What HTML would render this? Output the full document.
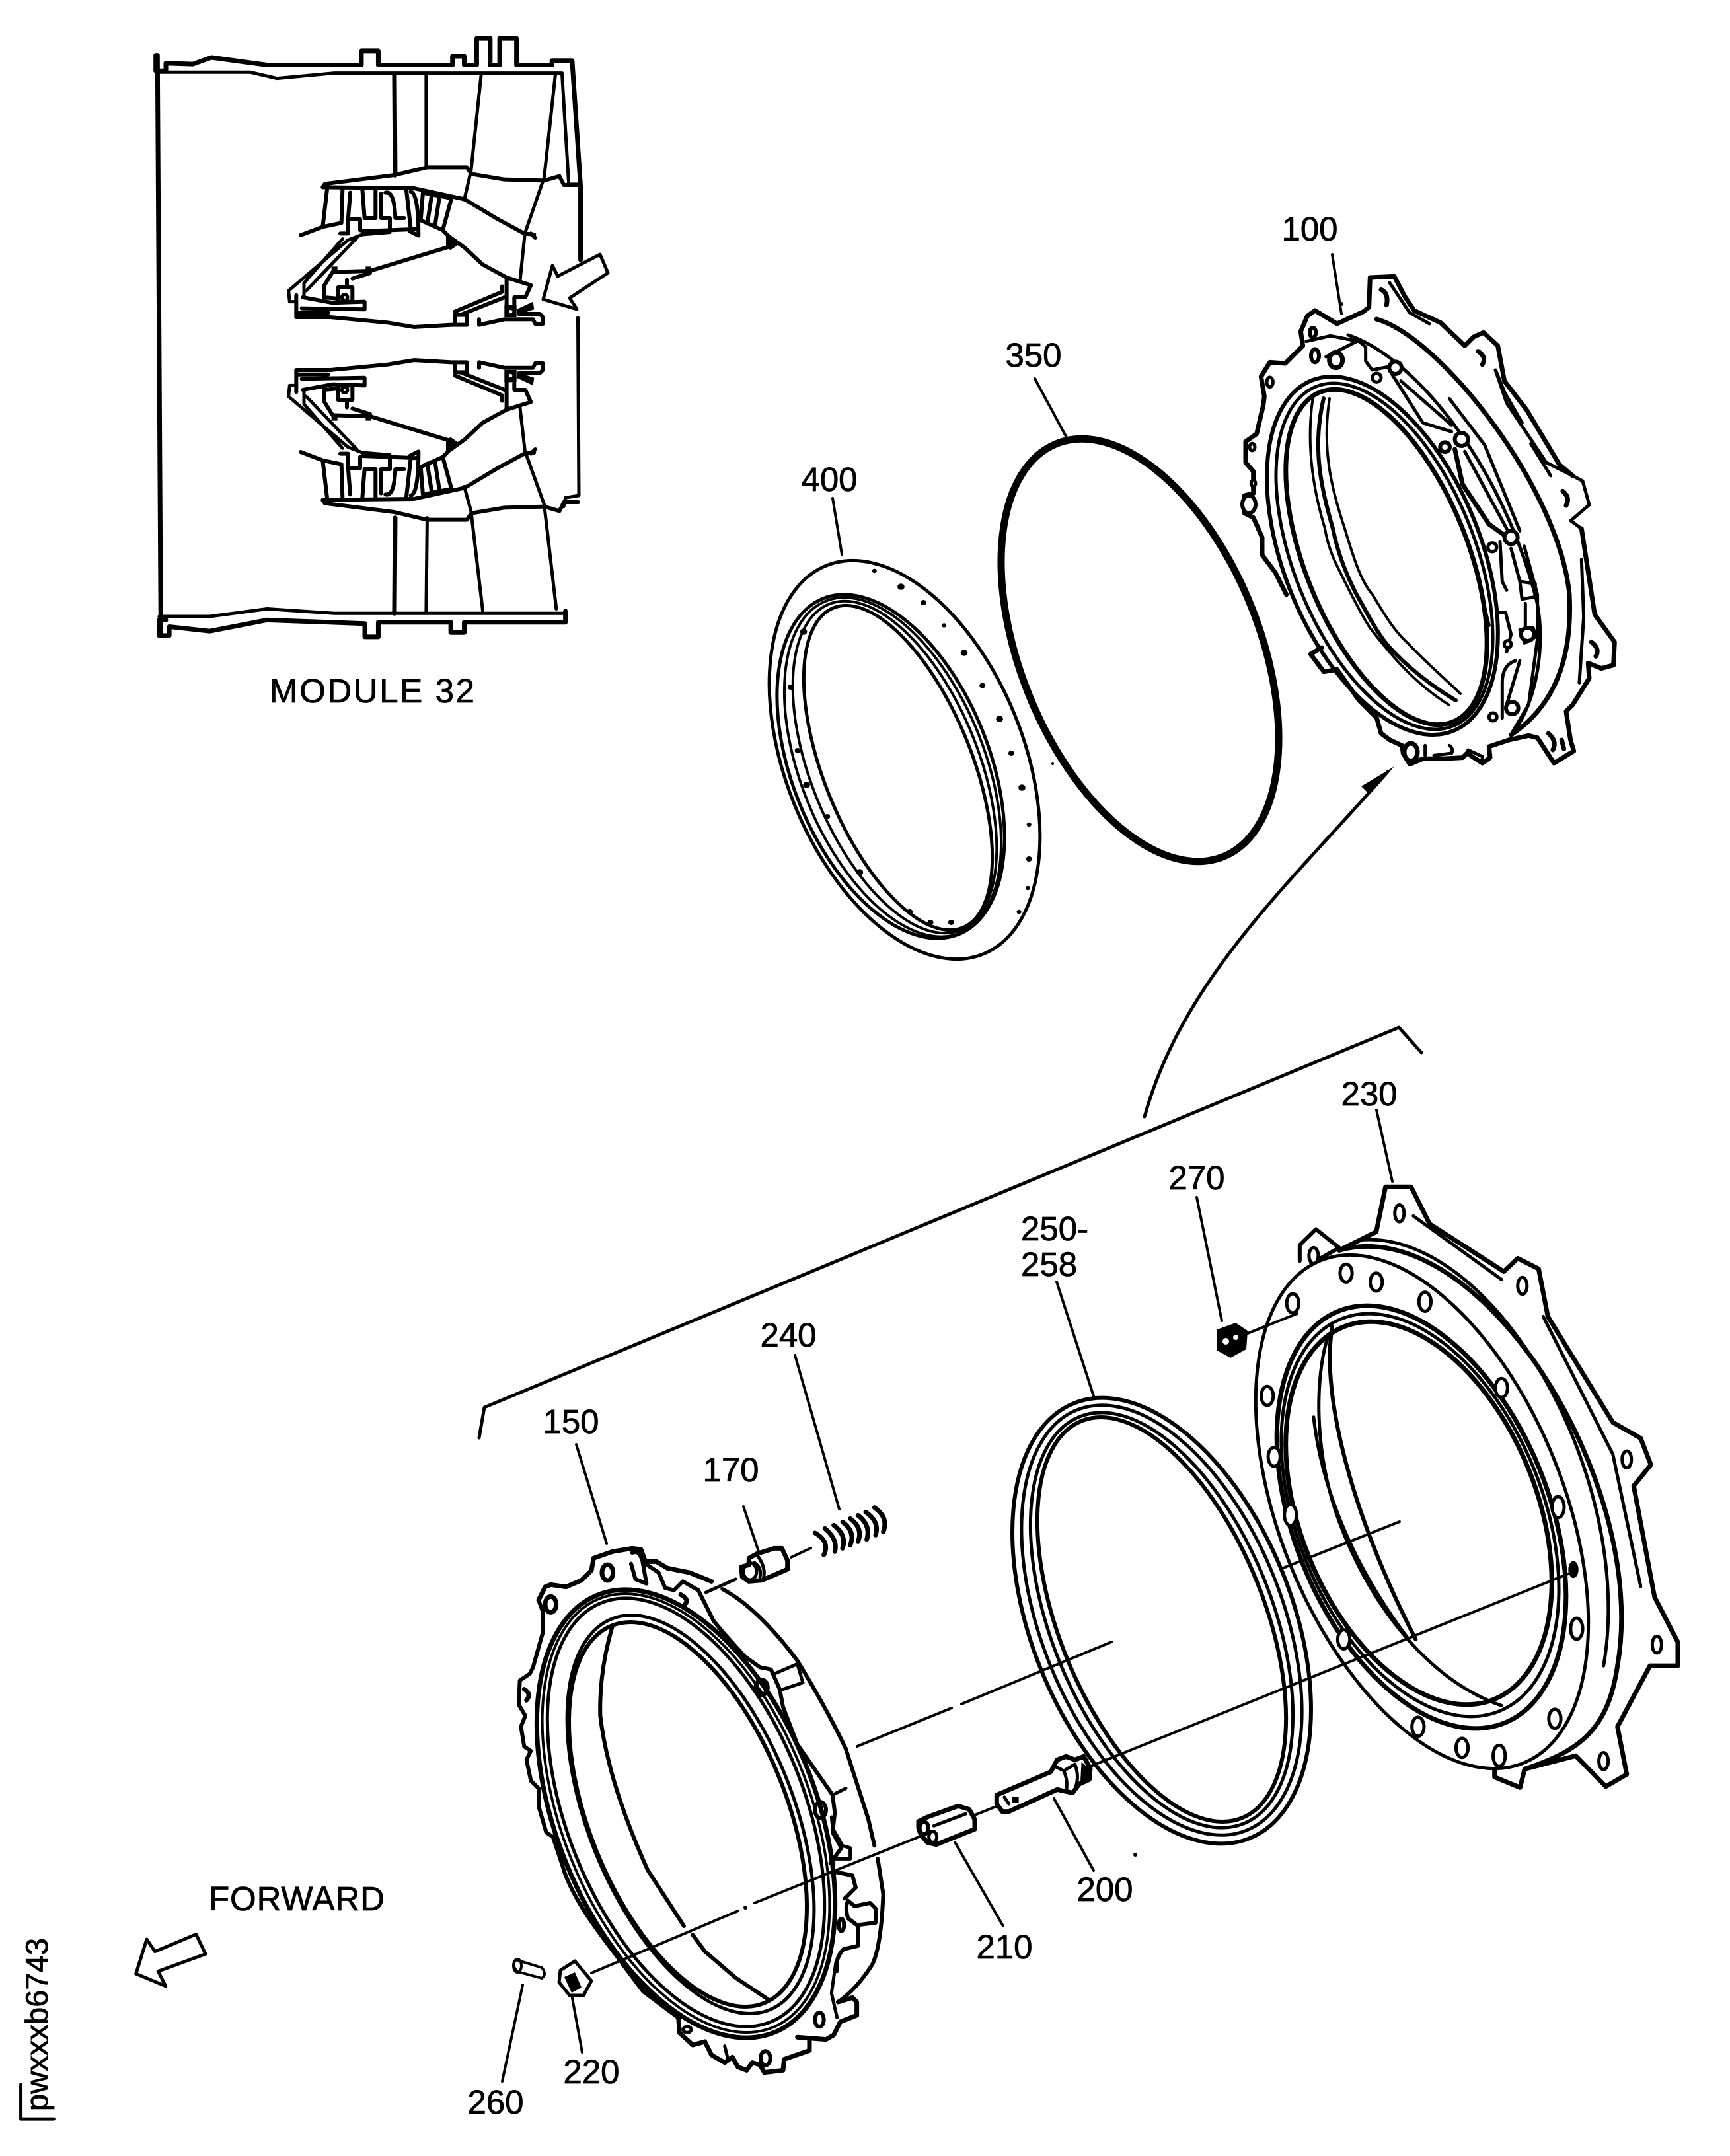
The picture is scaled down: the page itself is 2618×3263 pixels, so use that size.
<!DOCTYPE html>
<html><head><meta charset="utf-8"><style>
html,body{margin:0;padding:0;background:#fff}
svg{display:block}
svg *{vector-effect:non-scaling-stroke}
.s{fill:none;stroke:#000;stroke-width:5;stroke-linejoin:round;stroke-linecap:round}
.t{stroke-width:4}.h{stroke-width:7}.v{stroke-width:6}
.k{fill:#000;stroke:none}
.f{fill:#fff}
text{font-family:"Liberation Sans",sans-serif;font-size:51px;fill:#000;stroke:#000;stroke-width:.8}
</style></head><body>
<svg xmlns="http://www.w3.org/2000/svg" width="2618" height="3263" viewBox="0 0 2618 3263">
<rect width="2618" height="3263" fill="#fff"/>

<!-- MODULE INSET casing -->
<g class="s" transform="translate(200 50) scale(.5102 .673)">
<path class="h" d="M70,50V85H100V68L180,70L235,55L400,72L680,72V40H730V72H950V52H985V72H1022V12H1062V72H1090V12H1140V72H1245V62H1305L1330,345V510"/>
<path d="M80,88H350L430,102L600,90H1275"/>
<path class="h" d="M75,50L85,1350"/>
<path class="h" d="M778,92L780,320M780,1090L778,1305"/>
<path d="M872,95V300M1035,95L1005,310L985,375M1255,95L1222,325L1165,450L1150,560M1275,92L1295,340H1330"/>
<path class="h" d="M80,1355V1320H100M80,1355H110V1335L230,1345L400,1320L690,1328V1358H730V1325H945V1348H985V1325H1285V1300"/>
<path d="M80,1312H230L400,1295L600,1305H1285M875,1090L872,1300M1005,1075L1040,1300M1222,1060L1258,1295M985,1020L1005,1075M1150,840L1165,940L1222,1060"/>
<path d="M1322,640L1325,1040L1285,1045L1280,1065"/>
</g>
<!-- module interior -->
<g class="s" transform="translate(420 250) scale(.3333)" id="modg">
<g id="mod">
<path class="v" d="M205,100L215,85L530,45L680,10H860L880,40L1030,65L1210,70L1280,50L1300,90H1365"/>
<path class="v" d="M205,100L620,105L850,155L1000,245L1120,310L1165,315M1150,310L1170,330"/>
<path class="v" d="M225,110L205,280L105,318M205,280L290,262L295,110"/>
<path class="v" d="M330,125L320,250V310H285M320,245H375V295M385,300L640,290M385,110L395,240H445V110M470,130V240H510V290M490,125Q530,115 535,240H575M585,115L605,290M605,120Q640,130 640,320L600,300"/>
<path class="v" d="M660,125L650,250L750,295L790,150ZM700,135L680,265M735,145L715,275"/>
<path d="M320,340L50,570L55,620H85M360,330L130,570M295,335L120,535V600M320,340L385,315L510,305"/>
<path class="v" d="M750,295L780,325L850,375L930,450L1040,510L1150,545L1125,600H1075V630M1040,510V660"/>
<path class="k" d="M765,310L830,355L785,385L765,370Z"/>
<path class="v" d="M780,370L420,480L250,485L210,550V600L265,605M340,515L420,490"/>
<path class="v" d="M275,555H340V620H275ZM315,520V555"/>
<circle cx="305" cy="600" r="13"/>
<path class="v" d="M85,590V690L240,690L500,715L620,735L790,725H860V680H805V720M805,665L1020,575V550M830,680L1030,600M115,600L250,625L395,620V655L110,650M85,670H230"/>
<path class="v" d="M915,700V725L1030,700H1160L1170,720H1205V690L1190,675H1095"/>
<path class="k" d="M1030,635H1085V690H1030ZM1085,655L1160,620L1165,655L1090,680ZM245,460H272V490H245ZM400,460H425V490H400Z"/>
<circle cx="1058" cy="665" r="8" fill="#fff" stroke="none"/>
</g>
</g>
<g class="s" transform="matrix(1 0 0 -1 0 1040)">
<use href="#modg"/>
</g>
<path class="s" d="M822,453L836,402L844,418L908,385L920,413L862,451L873,468Z"/>
<text x="408" y="1063" textLength="310">MODULE 32</text>

<!-- RINGS in page coordinates -->
<g class="s">
<!-- 350 -->
<ellipse cx="1725" cy="984" rx="181" ry="337" transform="rotate(-22 1725 984)" style="stroke-width:11"/>
<!-- 400 -->
<ellipse cx="1369" cy="1150" rx="180" ry="317" transform="rotate(-22 1369 1150)"/>
<ellipse cx="1348" cy="1160" rx="149" ry="274" transform="rotate(-22 1348 1160)"/>
<ellipse cx="1351" cy="1161" rx="139" ry="271" transform="rotate(-22 1351 1161)" class="t"/>
<ellipse cx="1354" cy="1161" rx="127" ry="266" transform="rotate(-22 1354 1161)" class="t"/>
<ellipse cx="1359" cy="1162" rx="112" ry="261" transform="rotate(-22 1359 1162)"/>
<!-- 100 rings -->
<ellipse cx="2092" cy="841" rx="149" ry="286" transform="rotate(-22 2092 841)" class="v"/>
<ellipse cx="2095" cy="842" rx="137" ry="277" transform="rotate(-22 2095 842)"/>
<ellipse cx="2098" cy="843" rx="123" ry="269" transform="rotate(-22 2098 843)" class="h"/>
<path class="t" d="M2012,603C2000,680 2015,740 2035,800C2050,850 2060,880 2077,900C2095,930 2110,955 2130,973C2160,1005 2190,1030 2210,1050"/>
<path class="v" d="M2003,603C1985,680 2000,740 2017,800C2025,840 2040,875 2053,900C2070,930 2085,960 2103,980C2135,1015 2170,1040 2203,1060"/>
<path class="t" d="M1987,600C1975,680 1990,750 2005,800C2010,830 2020,850 2030,870C2045,900 2060,930 2073,950C2115,1005 2150,1040 2193,1067"/>
<path class="h" d="M2083,483C2180,510 2360,740 2375,900C2380,1000 2350,1070 2287,1112"/>
<path d="M2040,507C2140,540 2270,700 2323,900C2340,960 2330,1060 2287,1112"/>
<path d="M2380,720L2395,728L2405,764L2377,788L2393,800M2103,428L2133,473L2163,490M2263,560L2280,610L2340,700L2380,720"/>
<!-- 250-258 -->
<ellipse cx="1758" cy="2453" rx="197" ry="355" transform="rotate(-22 1758 2453)" class="v"/>
<ellipse cx="1758" cy="2452" rx="182" ry="343" transform="rotate(-22 1758 2452)"/>
<ellipse cx="1758" cy="2452" rx="167" ry="332" transform="rotate(-22 1758 2452)"/>
<ellipse cx="1758" cy="2451" rx="155" ry="324" transform="rotate(-22 1758 2451)" class="v"/>
<!-- 230 rings -->
<ellipse cx="2152" cy="2288" rx="215" ry="410" transform="rotate(-22 2152 2288)"/>
<ellipse cx="2151" cy="2296" rx="193" ry="336" transform="rotate(-22 2151 2296)" class="h"/>
<ellipse cx="2149" cy="2293" rx="186" ry="320" transform="rotate(-22 2149 2293)"/>
<ellipse cx="2147" cy="2290" rx="179" ry="304" transform="rotate(-22 2147 2290)" class="h"/>
<!-- 150 rings -->
<ellipse cx="1038" cy="2745" rx="196" ry="357" transform="rotate(-22 1038 2745)" class="h"/>
<ellipse cx="1038" cy="2744" rx="187" ry="350" transform="rotate(-22 1038 2744)" class="t"/>
<ellipse cx="1038" cy="2743" rx="179" ry="342" transform="rotate(-22 1038 2743)"/>
<ellipse cx="1045" cy="2746" rx="155" ry="319" transform="rotate(-22 1045 2746)"/>
<ellipse cx="1041" cy="2746" rx="149" ry="308" transform="rotate(-22 1041 2746)" class="v"/>
<!-- center lines -->
<path class="t" d="M1297,2643L1440,2585M1455,2579L1682,2485M1942,2373L2118,2303M1653,2672L2383,2378M895,2986L1117,2892M1142,2880L1398,2777M1883,2020L1963,1988M1068,2410L1113,2390M1197,2357L1227,2343M1475,2747L1510,2733"/>
<circle cx="1128" cy="2887" r="3" class="k"/>
<!-- bracket & arrow -->
<path d="M725,2176L733,2130L2117,1555L2151,1593"/>
<path d="M1732,1690C1790,1480 1957,1332 2100,1168"/>
<path class="k" d="M2110,1160L2060,1190L2072,1202Z"/>
<!-- leaders -->
<path class="t" d="M2016,385L2030,475M1566,573L1614,662M1260,754L1274,839M2083,1680L2107,1788M1811,1812L1849,1999M1599,1940L1655,2113M1203,2051L1270,2284M1125,2280L1148,2348M872,2186L918,2336M760,3150L791,3004M866,3024L881,3106M1445,2788L1518,2915M1595,2722L1655,2831"/>
<!-- 270 nut -->
<path class="k" d="M1842,2012L1870,2002L1888,2014L1886,2042L1862,2055L1842,2044Z"/>
<circle cx="1855" cy="2030" r="5" fill="#fff" stroke="none"/><circle cx="1870" cy="2024" r="4" fill="#fff" stroke="none"/>
<!-- 220 -->
<path d="M848,2982L870,2968L895,2998L883,3020L862,3020L846,3000Z"/>
<path class="k" d="M854,2992L870,2985L880,3008L865,3016Z"/>
<!-- 260 -->
<path class="t" d="M781,2966L820,2978Q828,2988 820,2994L783,2984Q773,2974 781,2966Z"/>
<ellipse cx="783" cy="2975" rx="6" ry="10" class="t"/>
<circle cx="1593" cy="1156" r="2" class="k"/><circle cx="1718" cy="2807" r="3" class="k"/><circle cx="2030" cy="460" r="3" class="k"/>
</g>

<!-- 170 + 240 (zoom crop) -->
<g class="s" transform="translate(1100 2280) scale(.3333)">
<path class="h" d="M100,235L135,215L215,190H250L275,245V285L160,335L100,340L70,320L65,275L100,265Z"/>
<ellipse cx="105" cy="295" rx="30" ry="38"/>
<path d="M125,255Q160,280 150,320M140,225Q180,280 165,330"/>
<path class="h" d="M400,120Q470,160 440,220M445,100Q505,150 490,205M485,85Q545,130 525,190M525,70Q585,115 560,175M560,55Q620,100 595,160M595,40Q655,85 635,150M630,25Q695,70 675,130M670,5Q735,50 710,115"/>
</g>

<!-- 200 + 210 (zoom crop) -->
<g class="s" transform="translate(1370 2630) scale(.3333)">
<path class="h" d="M60,380L100,360L240,310L290,325L315,370V415L140,485L100,475L70,440L60,410Z"/>
<path d="M130,400L275,345"/>
<ellipse cx="125" cy="450" rx="18" ry="25"/>
<ellipse cx="85" cy="410" rx="20" ry="28" class="v"/>
<path class="h" d="M415,260L520,215L660,155L690,100L730,85L770,100L810,85L840,140L835,190L790,210L760,250L710,240L690,235L470,335H440L415,300Z"/>
<path d="M450,270L470,300M720,150Q740,200 730,240M770,120Q790,170 775,220M680,130L720,150L770,120"/>
<path class="k" d="M800,110L835,140L830,185L795,200ZM485,270H515V295H485Z"/>
</g>

<!-- PART 100 top (crop d) -->
<g class="s" transform="translate(1880 400) scale(.3333)">
<path class="h" d="M430,270L330,210L295,235L265,305L275,370L195,450L125,445L85,510L100,600L95,640L65,770L15,805V900L50,940V1040L10,1050V1130L50,1150L90,1240V1320L150,1400L200,1500"/>
<path class="h" d="M430,270L550,215L575,195L580,60L690,55L740,150L780,210L900,265L1010,370L1050,330L1095,310L1160,370L1190,530L1290,660L1440,910L1500,960"/>
<path d="M680,500L820,720L950,760M720,530L950,730M1010,850L1200,1200M940,610L1100,820L1260,1210"/>
<path class="h" d="M965,840L1000,1000L1120,1180L1190,1230"/>
<path d="M290,350L400,325L530,350L560,375V440L590,480L690,460M380,420L520,350M1150,480L1190,580L1270,720M1310,815L1400,960"/>
<g class="f">
<circle cx="695" cy="470" r="28" class="v"/><circle cx="610" cy="515" r="20"/><circle cx="995" cy="795" r="30" class="v"/><circle cx="920" cy="830" r="22" class="v"/><circle cx="1220" cy="1240" r="30" class="v"/><circle cx="1135" cy="1285" r="20"/>
<ellipse cx="425" cy="435" rx="30" ry="35" class="h"/><ellipse cx="330" cy="415" rx="18" ry="30" class="v"/><ellipse cx="125" cy="535" rx="14" ry="22"/><ellipse cx="320" cy="310" rx="14" ry="22" class="v"/><ellipse cx="30" cy="1090" rx="30" ry="40" class="v"/><ellipse cx="45" cy="830" rx="12" ry="16"/><ellipse cx="50" cy="995" rx="10" ry="14"/>
</g>
<path class="h" d="M630,115Q665,130 655,185M1070,395Q1110,420 1090,455M1455,1030Q1490,1060 1470,1095"/>
</g>
<!-- PART 100 bottom (crop e) -->
<g class="s" transform="translate(1980 800) scale(.3333)">
<path class="h" d="M1240,0L1300,390L1390,515L1385,620L1330,635L1270,610L1275,680L1200,800L1170,830L1190,960L1205,1010L1115,1065L1040,950L1000,940L910,960L820,990L825,1040L790,1065L720,1020L700,1040L610,1045H520L460,1070L430,1020L425,985L370,960L330,930L310,860L230,780L130,640L70,650L10,570L60,540"/>
<path d="M860,380H895L920,480L900,560M960,240L1030,250V310L970,320ZM985,340V440M960,460L1020,450L1035,490L980,520M940,600Q880,620 880,700V860M960,600L900,800M870,60L880,240L900,280M920,90L960,240M980,80L1040,300V500L1000,800L920,935M800,360L820,440M1240,140L1250,400L1230,700"/>
<g class="f"><circle cx="925" cy="815" r="28" class="v"/><circle cx="838" cy="855" r="18"/><circle cx="905" cy="525" r="16"/><ellipse cx="465" cy="1015" rx="30" ry="40" class="h"/><circle cx="995" cy="480" r="30" class="v"/></g>
<path class="h" d="M1285,515Q1325,545 1305,580M1090,930Q1130,965 1110,1005M1150,960L1160,1000"/>
<path d="M530,985V1030M640,985Q660,1000 650,1020L570,1030M725,1005L790,1035V1060"/>
</g>

<!-- PART 230 outline -->
<g class="s" transform="translate(1500 1600) scale(.702 .801)">
<path class="h" d="M750,365L830,330L850,245H905L945,315L1105,405L1135,380L1180,400L1200,490L1340,690L1400,720L1422,770L1385,810L1430,1020L1480,1105V1150H1420L1350,1265L1370,1355L1325,1378L1260,1320L1150,1345L1140,1380L1085,1360V1345"/>
<path class="v" d="M665,385V355L700,325L750,360L690,390"/>
<path class="h" d="M750,365C1050,290 1420,800 1350,1150C1330,1270 1270,1310 1150,1345"/>
<path d="M800,345C1090,330 1390,800 1320,1150M1190,490L1340,750L1400,1000M910,300L1100,420"/>
<path d="M725,530C700,600 690,750 760,900C830,1050 950,1180 1100,1225M695,680C710,800 770,950 900,1100"/>
<path class="v" d="M735,510C710,640 780,870 915,1100"/>
<g class="f" style="stroke-width:5">
<ellipse cx="650" cy="465" rx="13" ry="18"/><ellipse cx="765" cy="408" rx="13" ry="17"/><ellipse cx="830" cy="425" rx="13" ry="17"/><ellipse cx="935" cy="462" rx="13" ry="18"/><ellipse cx="1100" cy="625" rx="13" ry="18"/><ellipse cx="1222" cy="850" rx="13" ry="20"/><ellipse cx="1262" cy="1080" rx="13" ry="20"/><ellipse cx="1215" cy="1250" rx="13" ry="18"/><ellipse cx="1095" cy="1320" rx="13" ry="20"/><ellipse cx="1015" cy="1305" rx="13" ry="18"/><ellipse cx="920" cy="1265" rx="13" ry="18"/><ellipse cx="760" cy="1100" rx="13" ry="18"/><ellipse cx="645" cy="865" rx="13" ry="20"/><ellipse cx="610" cy="755" rx="13" ry="18"/><ellipse cx="595" cy="640" rx="13" ry="18"/><ellipse cx="880" cy="295" rx="10" ry="16"/><ellipse cx="695" cy="375" rx="10" ry="15"/><ellipse cx="1145" cy="432" rx="10" ry="16"/><ellipse cx="1370" cy="760" rx="10" ry="16"/><ellipse cx="1435" cy="1110" rx="10" ry="16"/><ellipse cx="1320" cy="1330" rx="10" ry="16"/>
</g>
<ellipse class="k" cx="1255" cy="968" rx="11" ry="16"/>
</g>

<!-- ring 400 rim marks (crop 2) -->
<g class="k" transform="translate(1100 300) scale(.893 .8)">
<circle cx="250" cy="705" r="4"/><circle cx="295" cy="735" r="6"/><circle cx="333" cy="765" r="5"/><circle cx="368" cy="808" r="4"/><circle cx="402" cy="860" r="6"/><circle cx="433" cy="922" r="5"/><circle cx="462" cy="985" r="6"/><circle cx="482" cy="1050" r="5"/><circle cx="500" cy="1115" r="6"/><circle cx="512" cy="1185" r="4"/><circle cx="512" cy="1250" r="5"/><circle cx="510" cy="1305" r="4"/><circle cx="495" cy="1350" r="4"/><circle cx="130" cy="820" r="6"/><circle cx="108" cy="925" r="5"/><circle cx="120" cy="1045" r="5"/><circle cx="135" cy="1110" r="6"/><circle cx="170" cy="1170" r="5"/><circle cx="225" cy="1275" r="6"/><circle cx="310" cy="1350" r="5"/><circle cx="345" cy="1370" r="5"/><circle cx="380" cy="1370" r="5"/>
</g>

<!-- PART 150 top (crop b) -->
<g class="s" transform="translate(780 2330) scale(.3333)">
<path class="h" d="M105,275L135,215L160,205L230,215L300,185L345,140L355,85L440,55L530,40L570,45L590,100L640,100L690,130L790,150L890,190"/>
<path class="v" d="M590,110L650,150L680,220L720,230L760,190L830,230L900,370L950,430L1040,530L1110,580L1160,590L1200,680L1215,760L1280,930L1440,1160L1450,1240L1440,1330L1480,1400L1430,1470"/>
<path class="v" d="M525,110L545,180L595,200L570,60M530,60Q560,50 570,80"/>
<path class="v" d="M105,275L125,330V420L80,580L65,610L20,640L15,750L45,800L25,850L40,940L70,960L50,1000L70,1095L105,1130V1210L140,1330L170,1350L220,1500"/>
<path class="v" d="M940,225Q1100,310 1280,550Q1420,780 1500,950"/>
<path d="M1175,610L1280,565L1305,650L1215,680M1440,1160L1500,1130M865,240L1000,180"/>
<path d="M440,395Q380,600 385,800Q420,1100 600,1500" class="v"/>
<ellipse cx="418" cy="150" rx="25" ry="36" class="h"/>
<ellipse cx="160" cy="295" rx="25" ry="36" class="h"/>
<ellipse cx="1118" cy="672" rx="26" ry="34" class="h"/>
<ellipse cx="1385" cy="1228" rx="25" ry="36" class="v"/>
<path class="h" d="M750,250Q790,270 770,295M40,680Q75,700 50,730"/>
</g>
<!-- PART 150 bottom (crop c) -->
<g class="s" transform="translate(900 2750) scale(.3333)">
<path class="h" d="M130,670L220,790L380,910L385,980L445,1035L500,1020L530,1080L590,1115L625,1090L650,1135L690,1150L715,1115L750,1125L770,1160L855,1150L860,1100L975,1060V1005L920,1000L1050,1010L1085,990L1115,930L1190,900V840L1170,820L1105,840"/>
<path class="v" d="M1105,840Q1190,780 1260,670Q1300,590 1310,350L1285,190M1270,130L1240,0"/>
<path class="v" d="M1100,700Q1090,640 1130,600L1195,585V490L1275,480V415L1250,390L1180,405L1150,380Q1135,410 1150,460L1190,490M1135,370L1185,320L1170,265L1095,250"/>
<path d="M1095,660L1075,800L1100,910M1075,0L1080,50L1125,130L1160,140V190L1085,190V220"/>
<path class="v" d="M240,240L405,495M445,535L500,610L640,730L790,830"/>
<ellipse cx="1020" cy="920" rx="20" ry="32" class="v"/>
<ellipse cx="775" cy="1095" rx="22" ry="32" class="v"/>
<ellipse cx="420" cy="965" rx="18" ry="14"/>
<ellipse cx="1120" cy="490" rx="12" ry="28" class="v"/>
<path d="M590,1040L605,1100"/>
</g>
<path class="s v" d="M853,2830C870,2880 910,2930 943,2973M1280,2647L1313,2750"/>

<!-- FORWARD arrow and id bracket -->
<g class="s" transform="translate(0 2100) scale(.957 .7455)">
<path d="M215,1190L262,1215L250,1185L325,1150L310,1110L245,1145L232,1120Z"/>
<path d="M33,1415V1485H85"/>
</g>

<!-- LABELS -->
<g text-anchor="middle">
<text x="1982" y="364">100</text>
<text x="1564" y="555">350</text>
<text x="1255" y="743">400</text>
<text x="2072" y="1673">230</text>
<text x="1811" y="1800">270</text>
<text x="1193" y="2038">240</text>
<text x="1106" y="2242">170</text>
<text x="864" y="2169">150</text>
<text x="750" y="3199">260</text>
<text x="895" y="3153">220</text>
<text x="1520" y="2964">210</text>
<text x="1672" y="2877">200</text>
</g>
<text x="1545" y="1877">250-</text>
<text x="1545" y="1931">258</text>
<text x="316" y="2891" textLength="266">FORWARD</text>
<text x="0" y="0" transform="translate(72 3195) rotate(-90)" style="font-size:47px" textLength="262">pwxxxb6743</text>
</svg>
</body></html>
